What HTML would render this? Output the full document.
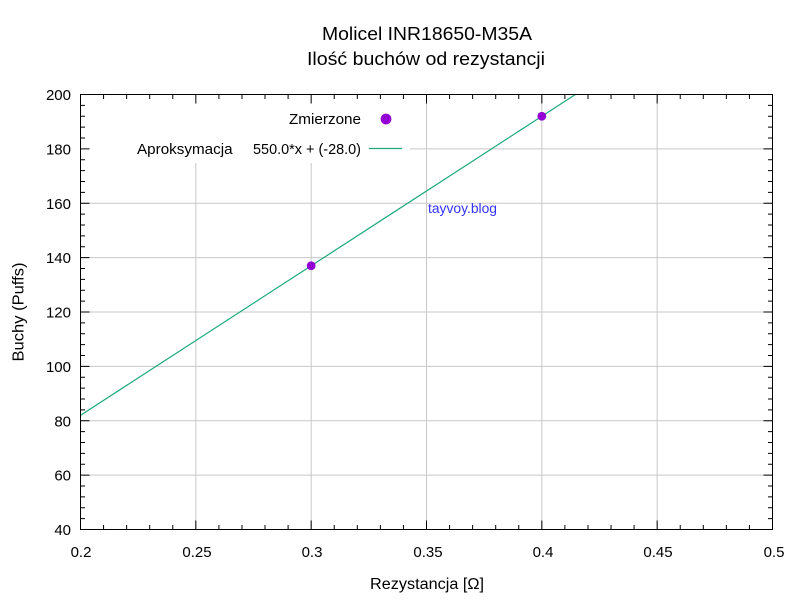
<!DOCTYPE html>
<html>
<head>
<meta charset="utf-8">
<style>
html,body{margin:0;padding:0;background:#fff;}
svg{display:block;}
text{font-family:"Liberation Sans","DejaVu Sans",sans-serif;fill:#000;}
</style>
</head>
<body>
<svg width="800" height="600" viewBox="0 0 800 600" xmlns="http://www.w3.org/2000/svg">
<rect x="0" y="0" width="800" height="600" fill="#fff"/>

<!-- Title -->
<text x="427" y="40" font-size="18" text-anchor="middle" textLength="210" lengthAdjust="spacingAndGlyphs">Molicel INR18650-M35A</text>
<text x="426" y="65" font-size="18" text-anchor="middle" textLength="238" lengthAdjust="spacingAndGlyphs">Ilość buchów od rezystancji</text>

<!-- Grid -->
<g stroke="#c8c8c8" stroke-width="1" fill="none">
  <line x1="195.83" y1="94.5" x2="195.83" y2="529.5"/>
  <line x1="311.17" y1="94.5" x2="311.17" y2="529.5"/>
  <line x1="426.5" y1="94.5" x2="426.5" y2="529.5"/>
  <line x1="541.83" y1="94.5" x2="541.83" y2="529.5"/>
  <line x1="657.17" y1="94.5" x2="657.17" y2="529.5"/>
  <line x1="80.5" y1="148.875" x2="772.5" y2="148.875"/>
  <line x1="80.5" y1="203.25" x2="772.5" y2="203.25"/>
  <line x1="80.5" y1="257.625" x2="772.5" y2="257.625"/>
  <line x1="80.5" y1="312" x2="772.5" y2="312"/>
  <line x1="80.5" y1="366.375" x2="772.5" y2="366.375"/>
  <line x1="80.5" y1="420.75" x2="772.5" y2="420.75"/>
  <line x1="80.5" y1="475.125" x2="772.5" y2="475.125"/>
</g>

<!-- Legend background -->
<rect x="81" y="95" width="329" height="68" fill="#fff"/>

<!-- Watermark -->
<text x="428" y="213" font-size="13.5" fill="#3333ff" style="fill:#3333ff" textLength="69" lengthAdjust="spacingAndGlyphs">tayvoy.blog</text>

<!-- Fit line -->
<clipPath id="pc"><rect x="80.5" y="94.5" width="692" height="435"/></clipPath>
<line x1="80.5" y1="415.31" x2="575.4" y2="94.5" stroke="#1aa87c" stroke-width="1.2" clip-path="url(#pc)"/>

<!-- Data points -->
<circle cx="311.17" cy="265.78" r="4.4" fill="#9400d3"/>
<circle cx="541.83" cy="116.25" r="4.4" fill="#9400d3"/>

<!-- Legend -->
<text x="361" y="124" font-size="14.5" text-anchor="end" textLength="72" lengthAdjust="spacingAndGlyphs">Zmierzone</text>
<circle cx="386" cy="119" r="5.4" fill="#9400d3"/>
<text x="137" y="154" font-size="14.5" textLength="95.6" lengthAdjust="spacingAndGlyphs">Aproksymacja</text>
<text x="361" y="154" font-size="14.5" text-anchor="end" textLength="108" lengthAdjust="spacingAndGlyphs">550.0*x + (-28.0)</text>
<line x1="369" y1="148.5" x2="402" y2="148.5" stroke="#1aa87c" stroke-width="1.2"/>

<!-- Ticks -->
<g stroke="#000" stroke-width="1">
  <!-- x major bottom/top -->
  <path d="M195.83 529.5v-9M311.17 529.5v-9M426.5 529.5v-9M541.83 529.5v-9M657.17 529.5v-9
           M195.83 94.5v9M311.17 94.5v9M426.5 94.5v9M541.83 94.5v9M657.17 94.5v9"/>
  <!-- x minor -->
  <path d="M103.57 529.5v-4.5M126.63 529.5v-4.5M149.7 529.5v-4.5M172.77 529.5v-4.5
           M218.9 529.5v-4.5M241.97 529.5v-4.5M265.03 529.5v-4.5M288.1 529.5v-4.5
           M334.23 529.5v-4.5M357.3 529.5v-4.5M380.37 529.5v-4.5M403.43 529.5v-4.5
           M449.57 529.5v-4.5M472.63 529.5v-4.5M495.7 529.5v-4.5M518.77 529.5v-4.5
           M564.9 529.5v-4.5M587.97 529.5v-4.5M611.03 529.5v-4.5M634.1 529.5v-4.5
           M680.23 529.5v-4.5M703.3 529.5v-4.5M726.37 529.5v-4.5M749.43 529.5v-4.5
           M103.57 94.5v4.5M126.63 94.5v4.5M149.7 94.5v4.5M172.77 94.5v4.5
           M218.9 94.5v4.5M241.97 94.5v4.5M265.03 94.5v4.5M288.1 94.5v4.5
           M334.23 94.5v4.5M357.3 94.5v4.5M380.37 94.5v4.5M403.43 94.5v4.5
           M449.57 94.5v4.5M472.63 94.5v4.5M495.7 94.5v4.5M518.77 94.5v4.5
           M564.9 94.5v4.5M587.97 94.5v4.5M611.03 94.5v4.5M634.1 94.5v4.5
           M680.23 94.5v4.5M703.3 94.5v4.5M726.37 94.5v4.5M749.43 94.5v4.5"/>
  <!-- y major left/right -->
  <path d="M80.5 148.875h9M80.5 203.25h9M80.5 257.625h9M80.5 312h9M80.5 366.375h9M80.5 420.75h9M80.5 475.125h9
           M772.5 148.875h-9M772.5 203.25h-9M772.5 257.625h-9M772.5 312h-9M772.5 366.375h-9M772.5 420.75h-9M772.5 475.125h-9"/>
  <!-- y minor -->
  <path d="M80.5 105.375h4.5M80.5 116.25h4.5M80.5 127.125h4.5M80.5 138h4.5
           M80.5 159.75h4.5M80.5 170.625h4.5M80.5 181.5h4.5M80.5 192.375h4.5
           M80.5 214.125h4.5M80.5 225h4.5M80.5 235.875h4.5M80.5 246.75h4.5
           M80.5 268.5h4.5M80.5 279.375h4.5M80.5 290.25h4.5M80.5 301.125h4.5
           M80.5 322.875h4.5M80.5 333.75h4.5M80.5 344.625h4.5M80.5 355.5h4.5
           M80.5 377.25h4.5M80.5 388.125h4.5M80.5 399h4.5M80.5 409.875h4.5
           M80.5 431.625h4.5M80.5 442.5h4.5M80.5 453.375h4.5M80.5 464.25h4.5
           M80.5 486h4.5M80.5 496.875h4.5M80.5 507.75h4.5M80.5 518.625h4.5
           M772.5 105.375h-4.5M772.5 116.25h-4.5M772.5 127.125h-4.5M772.5 138h-4.5
           M772.5 159.75h-4.5M772.5 170.625h-4.5M772.5 181.5h-4.5M772.5 192.375h-4.5
           M772.5 214.125h-4.5M772.5 225h-4.5M772.5 235.875h-4.5M772.5 246.75h-4.5
           M772.5 268.5h-4.5M772.5 279.375h-4.5M772.5 290.25h-4.5M772.5 301.125h-4.5
           M772.5 322.875h-4.5M772.5 333.75h-4.5M772.5 344.625h-4.5M772.5 355.5h-4.5
           M772.5 377.25h-4.5M772.5 388.125h-4.5M772.5 399h-4.5M772.5 409.875h-4.5
           M772.5 431.625h-4.5M772.5 442.5h-4.5M772.5 453.375h-4.5M772.5 464.25h-4.5
           M772.5 486h-4.5M772.5 496.875h-4.5M772.5 507.75h-4.5M772.5 518.625h-4.5"/>
</g>

<!-- Frame -->
<rect x="80.5" y="94.5" width="692" height="435" fill="none" stroke="#000" stroke-width="1"/>

<!-- Y tick labels -->
<g font-size="15" text-anchor="end">
  <text x="71" y="100">200</text>
  <text x="71" y="154.4">180</text>
  <text x="71" y="208.8">160</text>
  <text x="71" y="263.1">140</text>
  <text x="71" y="317.5">120</text>
  <text x="71" y="371.9">100</text>
  <text x="71" y="426.3">80</text>
  <text x="71" y="480.6">60</text>
  <text x="71" y="535">40</text>
</g>

<!-- X tick labels -->
<g font-size="15" text-anchor="middle">
  <text x="81" y="557">0.2</text>
  <text x="197" y="557">0.25</text>
  <text x="312" y="557">0.3</text>
  <text x="428" y="557">0.35</text>
  <text x="543" y="557">0.4</text>
  <text x="658" y="557">0.45</text>
  <text x="774" y="557">0.5</text>
</g>

<!-- Axis labels -->
<text x="427" y="589" font-size="15.5" text-anchor="middle" textLength="114" lengthAdjust="spacingAndGlyphs">Rezystancja [Ω]</text>
<text transform="translate(23.3,312) rotate(-90)" x="0" y="0" font-size="15.5" text-anchor="middle" textLength="99" lengthAdjust="spacingAndGlyphs">Buchy (Puffs)</text>
</svg>
</body>
</html>
